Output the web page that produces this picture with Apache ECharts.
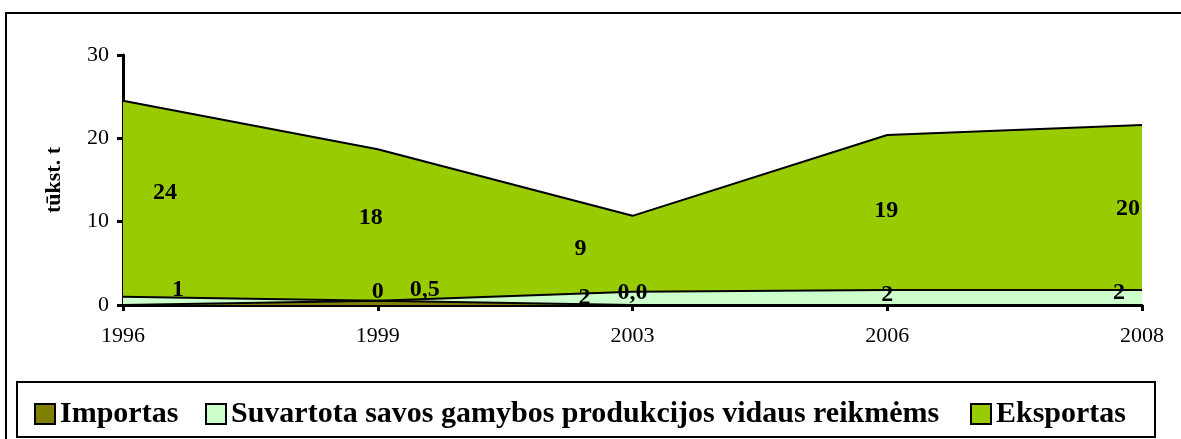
<!DOCTYPE html>
<html>
<head>
<meta charset="utf-8">
<script src="https://cdn.jsdelivr.net/npm/echarts@6/dist/echarts.min.js"></script>
<style>
  html, body { margin: 0; padding: 0; background: #fff; }
  #chart { width: 1181px; height: 439px; }
</style>
</head>
<body>
<div id="chart"></div>
<script>
// data (thousand tonnes)
const years = ["1996", "1999", "2003", "2006", "2008"];
const seriesNames = ["Importas", "Suvartota savos gamybos produkcijos vidaus reikmėms", "Eksportas"];
const importas = [0, 0.5, 0, 0, 0];
const suvartota = [1, 0, 1.6, 1.8, 1.8];
const eksportas = [23.5, 18.2, 9.1, 18.6, 19.8];
const importasShown = [false, true, true, false, false];

// label nudges, px (label centre relative to the point)
const offImp = [[0, 0], [47, -11], [0, -12], [0, 0], [0, 0]];
const offSuv = [[55, -7], [0, -9], [-48, 6], [0, 5], [-23, 3]];
const offEks = [[42, 92], [-7, 69], [-52, 33], [-1, 76], [-14, 84]];
const legendLeft = [34, 205, 970];

const FONT = "Liberation Serif";

function items(vals, offs, shown, fmt) {
  return vals.map((v, i) => ({
    value: v,
    label: {
      show: shown ? shown[i] : true,
      position: "inside",
      offset: offs[i],
      formatter: fmt(v),
    },
  }));
}

const round = (v) => String(Math.round(v));
const oneDec = (v) => v.toFixed(1).replace(".", ",");

const labelStyle = {
  show: true,
  fontFamily: FONT,
  fontWeight: "bold",
  fontSize: 24,
  color: "#000",
};

function areaSeries(name, color, data) {
  return {
    name,
    type: "line",
    stack: "total",
    symbol: "circle",
    symbolSize: 0,
    showSymbol: true,
    data,
    lineStyle: { color: "#000", width: 2 },
    itemStyle: { color, borderColor: "#000", borderWidth: 1.5 },
    areaStyle: { color, opacity: 1 },
    label: labelStyle,
    z: 2,
  };
}

const chart = echarts.init(document.getElementById("chart"));

chart.setOption({
  animation: false,
  graphic: [
    {
      type: "rect",
      shape: { x: 6, y: 13, width: 1200, height: 440 },
      style: { fill: "none", stroke: "#000", lineWidth: 2 },
      silent: true,
    },
    {
      type: "rect",
      shape: { x: 17, y: 382, width: 1138, height: 55 },
      style: { fill: "none", stroke: "#000", lineWidth: 2 },
      silent: true,
    },
  ],
  grid: { left: 123, right: 39, top: 55, bottom: 134 },
  legend: seriesNames.map((n, i) => ({
    left: legendLeft[i],
    top: 399,
    padding: 0,
    itemWidth: 20,
    itemHeight: 20,
    icon: "rect",
    textStyle: { fontFamily: FONT, fontWeight: "bold", fontSize: 30, color: "#000" },
    data: [n],
  })),
  xAxis: {
    type: "category",
    data: years,
    boundaryGap: false,
    axisLine: { lineStyle: { color: "#000", width: 3 } },
    axisTick: { show: true, alignWithLabel: true, length: 6, lineStyle: { color: "#000", width: 3 } },
    axisLabel: { fontFamily: FONT, fontSize: 22, color: "#000", margin: 20 },
  },
  yAxis: {
    type: "value",
    min: 0,
    max: 30,
    interval: 10,
    name: "tūkst. t",
    nameLocation: "middle",
    nameGap: 58,
    nameTextStyle: { fontFamily: FONT, fontWeight: "bold", fontSize: 22, color: "#000" },
    axisLine: { show: true, lineStyle: { color: "#000", width: 3 } },
    axisTick: { show: true, length: 6, lineStyle: { color: "#000", width: 3 } },
    axisLabel: { fontFamily: FONT, fontSize: 22, color: "#000", margin: 14 },
    splitLine: { show: false },
  },
  series: [
    areaSeries(seriesNames[0], "#808000", items(importas, offImp, importasShown, oneDec)),
    areaSeries(seriesNames[1], "#ccffcc", items(suvartota, offSuv, null, round)),
    areaSeries(seriesNames[2], "#99cc00", items(eksportas, offEks, null, round)),
  ],
});
</script>
</body>
</html>
